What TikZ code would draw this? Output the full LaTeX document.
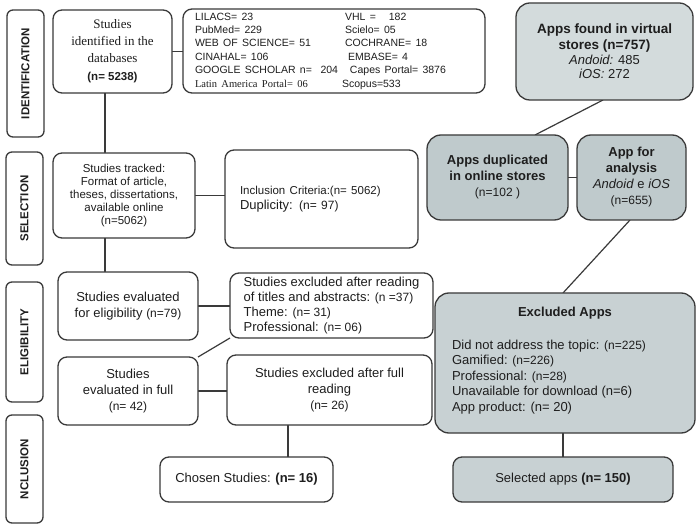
\documentclass[tikz,border=0pt]{standalone}
\usepackage{fontspec}
\setmainfont{Liberation Sans}
\newfontfamily\seriffam{Liberation Serif}
\usetikzlibrary{calc,backgrounds}
\definecolor{edgec}{HTML}{3A3A3A}
\definecolor{txtc}{HTML}{1E1E1E}
\definecolor{lightfill}{HTML}{D3DBDC}
\definecolor{midfill}{HTML}{BFCACC}
\definecolor{exfill}{HTML}{C8D1D3}
\newcommand\nsz{\fontsize{12}{14}\selectfont}
\begin{document}
\begin{tikzpicture}[x=1pt,y=-1pt,
  every node/.style={inner sep=0pt, outer sep=0pt, text=txtc},
  box/.style={draw=edgec, line width=1.3pt, rounded corners=9pt, fill=white, font=\fontsize{13}{16}\selectfont},
  phase/.style={box, rotate=90, minimum height=37pt, rounded corners=6pt, font=\bfseries\fontsize{11.5}{13}\selectfont},
  appbox/.style={box, rounded corners=14pt},
  conn/.style={draw=edgec, line width=1.2pt}
]
\useasboundingbox (0,0) rectangle (698,526);

% phase labels
\node[phase, minimum width=127pt] (pid) at (25.5,73.5) {IDENTIFICATION};
\node[phase, minimum width=113pt] (psel) at (24.5,208.5) {SELECTION};
\node[phase, minimum width=120pt] (pel) at (24.5,342) {ELIGIBILITY};
\node[phase, minimum width=108pt] (pinc) at (24.5,469) {NCLUSION};

% identification
\node[box, minimum width=119pt, minimum height=83pt, align=center, font=\fontsize{13}{17}\selectfont] (ident) at (112.5,51.5)
  {\seriffam Studies\\\seriffam identified in the\\\seriffam databases\\[1pt]\bfseries\fontsize{11.5}{13}\selectfont (n= 5238)};

\node[box, minimum width=302pt, minimum height=84pt, inner xsep=12pt, text width=278pt, align=left] (db) at (334,51)
  {\fontsize{10.5}{13.4}\selectfont\def\arraystretch{1}%
   \begin{tabular}{@{}p{150pt}@{}l@{}}
   LILACS= 23 & VHL =\ \ \ 182\\
   PubMed= 229 & Scielo= 05\\
   WEB OF SCIENCE= 51 & COCHRANE= 18\\
   CINAHAL= 106 & \hspace{3pt}EMBASE= 4\\
   GOOGLE SCHOLAR n=\ \ 204 & \hspace{5pt}Capes Portal= 3876\\
   {\seriffam Latin America Portal= 06} & \hspace{-3pt}Scopus=533
   \end{tabular}};

% apps
\node[appbox, fill=lightfill, minimum width=177pt, minimum height=97pt, align=center] (found) at (604.5,51.5)
  {\bfseries\fontsize{13.5}{16}\selectfont Apps found in virtual\\\bfseries\fontsize{13.5}{16}\selectfont stores (n=757)\\[-1pt]\textit{Andoid:} 485\\[-2pt]\textit{iOS:} 272};
\node[appbox, fill=midfill, minimum width=141pt, minimum height=85pt, align=center] (dup) at (497.5,177.5)
  {\bfseries Apps duplicated\\\bfseries in online stores\\\nsz(n=102 )};
\node[appbox, fill=midfill, minimum width=109pt, minimum height=85pt, align=center] (ana) at (631.5,177.5)
  {\bfseries App for\\\bfseries analysis\\\textit{Andoid} e \textit{iOS}\\\nsz(n=655)};

% selection
\node[box, minimum width=142pt, minimum height=85pt, align=center, font=\fontsize{11.5}{13}\selectfont] (tracked) at (124,195.5)
  {Studies tracked:\\Format of article,\\theses, dissertations,\\available online\\(n=5062)};
\node[box, minimum width=193pt, minimum height=98pt, inner xsep=15pt, text width=163pt, align=left] (incl) at (321.5,199)
  {\fontsize{11.5}{16}\selectfont Inclusion Criteria:(n= 5062)\\[-1pt]\fontsize{13}{16}\selectfont Duplicity: {\nsz(n= 97)}};

% eligibility
\node[box, minimum width=140pt, minimum height=68pt, align=center] (elig) at (128,306)
  {Studies evaluated\\for eligibility {\nsz(n=79)}};
\node[box, minimum width=203pt, minimum height=65pt, align=left, font=\fontsize{13}{15}\selectfont] (excla) at (331.5,305.5)
  {Studies excluded after reading\\of titles and abstracts: {\nsz(n =37)}\\Theme: {\nsz(n= 31)}\\Professional: {\nsz(n= 06)}};
\node[box, minimum width=140pt, minimum height=68pt, align=center] (full) at (128,391)
  {Studies\\evaluated in full\\{\nsz(n= 42)}};
\node[box, minimum width=205pt, minimum height=70pt, align=center] (exclb) at (329.5,390)
  {Studies excluded after full\\reading\\{\nsz(n= 26)}};

% inclusion
\node[box, minimum width=173pt, minimum height=45pt] (chosen) at (246.5,479.5)
  {Chosen Studies: \textbf{(n= 16)}};

\node[appbox, fill=exfill, minimum width=260pt, minimum height=140pt] (exapps) at (565,363) {};
\node[font=\bfseries\fontsize{13}{16}\selectfont] (exappst) at (565,313) {Excluded Apps};
\node[anchor=north west, align=left, font=\fontsize{13}{16}\selectfont] (exappsl) at (452,340)
  {Did not address the topic: {\nsz(n=225)}\\[-0.5pt]Gamified: {\nsz(n=226)}\\[-0.5pt]Professional: {\nsz(n=28)}\\[-0.5pt]Unavailable for download (n=6)\\[-0.5pt]App product: (n= 20)};
\node[box, fill=exfill, minimum width=220pt, minimum height=45pt] (selapps) at (563,479.5)
  {Selected apps \textbf{(n= 150)}};

\begin{pgfonlayer}{background}
\fill[white] (0,0) rectangle (698,526);
\draw[conn] ([xshift=-7.5pt]ident.south) -- ([xshift=-7.5pt]ident.south |- tracked.north);
\draw[conn] (ident.east) -- (ident.east -| db.west);
\draw[conn] ([xshift=-19pt]tracked.south) -- ([xshift=-19pt]tracked.south |- elig.north);
\draw[conn] (tracked.east) -- (tracked.east -| incl.west);
\draw[conn] (elig.east) -- (elig.east -| excla.west);
\draw[conn] (excla.south west) -- (full.north east);
\draw[conn] (full.east) -- (full.east -| exclb.west);
\draw[conn] ([xshift=-41.5pt]exclb.south) -- ([xshift=-41.5pt]exclb.south |- chosen.north);
\draw[conn] ([xshift=-1.5pt]found.south) -- ([xshift=37.5pt]dup.north);
\draw[conn] (dup.east) -- (dup.east -| ana.west);
\draw[conn] ([xshift=-1.5pt]ana.south) -- ([xshift=-2pt]exapps.north);
\draw[conn] ([xshift=-2pt]exapps.south) -- ([xshift=-2pt]exapps.south |- selapps.north);
\end{pgfonlayer}
\end{tikzpicture}
\end{document}
